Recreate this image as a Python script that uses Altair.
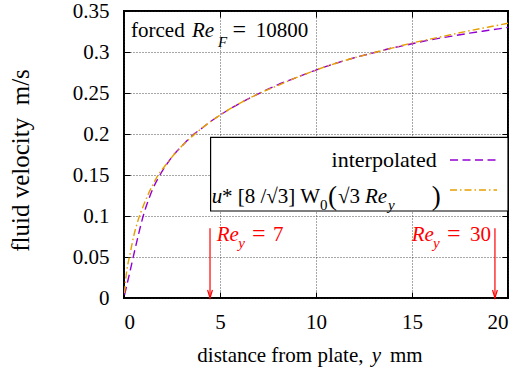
import altair as alt
import pandas as pd

# ---------------- data ----------------
dist_interp = [0.03, 0.1, 0.2, 0.3, 0.5, 0.75, 1.0, 1.25, 1.5, 1.875, 2.25, 2.75, 3.0, 3.6,
               4.0, 4.5, 5, 6, 7, 8, 9, 10, 11, 12, 13.16, 14, 15, 16, 17, 18, 19, 20]
vel_interp = [0.004, 0.011, 0.021, 0.031, 0.052, 0.077, 0.100, 0.118, 0.133, 0.150, 0.164,
              0.179, 0.185, 0.199, 0.206, 0.215, 0.223, 0.237, 0.249, 0.260, 0.269, 0.278,
              0.286, 0.293, 0.300, 0.305, 0.310, 0.315, 0.319, 0.323, 0.3265, 0.330]

dist_w0 = [0.02, 0.05, 0.1, 0.2, 0.3, 0.5, 0.75, 1.0, 1.25, 1.5, 1.75, 2.0, 2.5, 3, 3.6, 4,
           5, 6, 7, 8, 9, 10, 11, 12, 13, 14, 15, 16, 17, 18, 19, 20]
vel_w0 = [0.006, 0.013, 0.025, 0.041, 0.052, 0.075, 0.096, 0.112, 0.126, 0.138, 0.149, 0.157,
          0.172, 0.185, 0.198, 0.206, 0.223, 0.237, 0.249, 0.259, 0.269, 0.278, 0.286, 0.293,
          0.299, 0.305, 0.311, 0.316, 0.321, 0.326, 0.3305, 0.335]

arrow_x = [4.48, 19.32]      # Re_y = 7 and Re_y = 30
arrow_top = 0.085

x_ticks = [0, 5, 10, 15, 20]
y_ticks = [0, 0.05, 0.1, 0.15, 0.2, 0.25, 0.3, 0.35]

# ---------------- styling ----------------
FONT = "'Liberation Serif', 'Times New Roman', Times, 'DejaVu Serif', serif"
FS = 21
SUB = 15
EQ = 24
PURPLE = "#9400D3"
ORANGE = "#E69F00"
RED = "#FF0000"
W, H = 384, 287

xs = alt.Scale(domain=[0, 20], nice=False, zero=False)
ys = alt.Scale(domain=[0, 0.35], nice=False, zero=False)

df_i = pd.DataFrame({"x": dist_interp, "v": vel_interp})
df_w = pd.DataFrame({"x": dist_w0, "v": vel_w0})
df_a = pd.DataFrame({"x": arrow_x, "top": [arrow_top] * len(arrow_x), "bot": [0] * len(arrow_x)})

grid_kw = dict(grid=True, gridDash=[1, 2], gridColor="#222", gridWidth=0.8,
               ticks=False, tickSize=0, domain=False,
               labelFont=FONT, labelFontSize=FS, labelColor="black")

x_main = alt.Axis(values=x_ticks, format="d", labelPadding=13, title=None, **grid_kw)
y_main = alt.Axis(values=y_ticks, format=".2~f", labelPadding=15,
                  title="fluid velocity\u00a0\u00a0m/s", titleFont=FONT, titleFontSize=25,
                  titleFontWeight="normal", titleColor="black", titleAngle=270,
                  titleAlign="center", titleBaseline="alphabetic", titleX=-96, titleY=149,
                  **grid_kw)


def tick_axis(orient, values):
    return alt.Axis(orient=orient, values=values, offset=-6, tickSize=6, ticks=True,
                    tickColor="black", tickWidth=1, labels=False, domain=False,
                    grid=False, title=None)


purple = alt.Chart(df_i).mark_line(color=PURPLE, strokeWidth=1.4, strokeDash=[8, 4.5],
                                   interpolate="monotone", clip=True).encode(
    x=alt.X("x:Q", scale=xs, axis=x_main),
    y=alt.Y("v:Q", scale=ys, axis=y_main),
)

orange = alt.Chart(df_w).mark_line(color=ORANGE, strokeWidth=1.4, strokeDash=[7, 3, 1.5, 3],
                                   interpolate="monotone", clip=True).encode(
    x=alt.X("x:Q", scale=xs, axis=tick_axis("bottom", x_ticks)),
    y=alt.Y("v:Q", scale=ys, axis=tick_axis("left", y_ticks)),
)

arrows = alt.Chart(df_a).mark_rule(color=RED, strokeWidth=1.2).encode(
    x=alt.X("x:Q", scale=xs, axis=tick_axis("top", x_ticks)),
    y=alt.Y("top:Q", scale=ys, axis=tick_axis("right", y_ticks)),
    y2="bot:Q",
)

heads = alt.Chart(df_a).mark_point(shape="M -0.6 -2 L 0 0 L 0.6 -2", size=64, filled=False,
                                   color=RED, strokeWidth=1.2, opacity=1).encode(
    x=alt.X("x:Q", scale=xs, axis=None),
    y=alt.Y("bot:Q", scale=ys, axis=None),
)

legend_box = alt.Chart().mark_rect(fill="white", stroke="black", strokeWidth=1.2).encode(
    x=alt.XDatum(4.51, axis=None), x2=alt.X2Datum(20),
    y=alt.YDatum(0.196, axis=None), y2=alt.Y2Datum(0.1061),
)

leg_line1 = alt.Chart().mark_rule(color=PURPLE, strokeWidth=1.4, strokeDash=[8, 4.5]).encode(
    x=alt.XDatum(16.98, axis=None), x2=alt.X2Datum(19.43), y=alt.YDatum(0.1683, axis=None))
leg_line2 = alt.Chart().mark_rule(color=ORANGE, strokeWidth=1.4, strokeDash=[7, 3, 1.5, 3]).encode(
    x=alt.XDatum(16.98, axis=None), x2=alt.X2Datum(19.43), y=alt.YDatum(0.1317, axis=None))


def txt(xv, yv, s, dx, dy, italic=False, size=FS, color="black", align="left"):
    return alt.Chart().mark_text(text=s, dx=dx, dy=dy, align=align, baseline="alphabetic",
                                 font=FONT, fontSize=size,
                                 fontStyle="italic" if italic else "normal",
                                 color=color).encode(
        x=alt.XDatum(xv, axis=None), y=alt.YDatum(yv, axis=None))


texts = [
    # forced Re_F = 10800
    txt(0, 0.35, "forced", 7, 26),
    txt(0, 0.35, "Re", 68, 26, italic=True),
    txt(0, 0.35, "F", 94, 36, italic=True, size=SUB),
    txt(0, 0.35, "=", 108.5, 26, size=EQ),
    txt(0, 0.35, "10800", 131.7, 26),
    # legend
    txt(0, 0.35, "interpolated", 312.7, 156, align="right", size=22),
    txt(0, 0.35, "u", 87.7, 192, italic=True),
    txt(0, 0.35, "* [8 /\u221a3] W", 98, 192),
    txt(0, 0.35, "0", 196, 199, size=SUB),
    txt(0, 0.35, "(", 204, 194, size=27),
    txt(0, 0.35, "\u221a3", 214, 192),
    txt(0, 0.35, "Re", 241, 192, italic=True),
    txt(0, 0.35, "y", 264, 199, italic=True, size=SUB),
    txt(0, 0.35, ")", 307.7, 194, size=27),
    # x axis title
    txt(0, 0, "distance from plate,", 73.3, 63.7),
    txt(0, 0, "y", 247.7, 63.7, italic=True),
    txt(0, 0, "mm", 266, 63.7),
    # Re_y labels
    txt(arrow_x[0], 0, "Re", 6.7, -57, italic=True, color=RED),
    txt(arrow_x[0], 0, "y", 28.3, -50, italic=True, size=SUB, color=RED),
    txt(arrow_x[0], 0, "=", 42, -57, size=EQ, color=RED),
    txt(arrow_x[0], 0, "7", 63, -57, color=RED),
    txt(arrow_x[1], 0, "Re", -83.3, -57, italic=True, color=RED),
    txt(arrow_x[1], 0, "y", -62, -50, italic=True, size=SUB, color=RED),
    txt(arrow_x[1], 0, "=", -48, -57, size=EQ, color=RED),
    txt(arrow_x[1], 0, "30", -25, -57, color=RED),
]

chart = alt.layer(
    purple, orange, arrows, heads, legend_box, leg_line1, leg_line2, *texts
).resolve_axis(x="independent", y="independent").properties(
    width=W, height=H,
    autosize=alt.AutoSizeParams(type="none"),
    padding={"left": 124, "top": 11, "right": 15, "bottom": 78},
    background="white",
).configure_view(stroke="black", strokeWidth=2)

chart.save("out.html", embed_options={"renderer": "svg", "actions": False})
